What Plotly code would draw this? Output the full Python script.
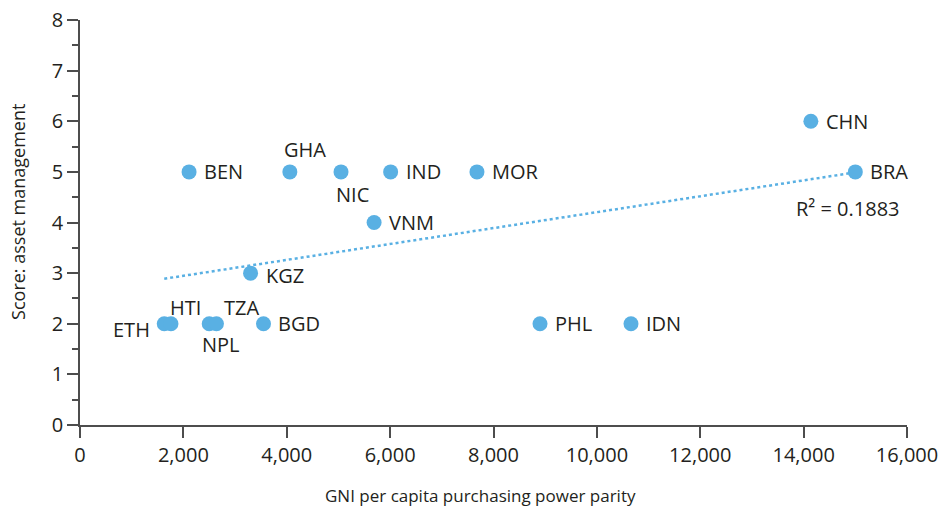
import numpy as np
import plotly.graph_objects as go

countries = ["ETH", "HTI", "NPL", "TZA", "BGD", "KGZ", "BEN", "GHA", "NIC", "IND",
             "VNM", "MOR", "PHL", "IDN", "CHN", "BRA"]
gni = [1630, 1760, 2500, 2640, 3550, 3300, 2110, 4060, 5050, 6010,
       5690, 7680, 8900, 10660, 14140, 15000]
score = [2, 2, 2, 2, 2, 3, 5, 5, 5, 5,
         4, 5, 2, 2, 6, 5]
r2_label = "R² = 0.1883"
x_title = "GNI per capita purchasing power parity"
y_title = "Score: asset management"

# label placement (anchor, xshift, yshift)
label_pos = {
    "ETH": ("right", -12, -6), "HTI": ("center", 15, 16), "NPL": ("center", 12, -21),
    "TZA": ("center", 25, 16), "BGD": ("left", 13, 0), "KGZ": ("left", 13, -2),
    "BEN": ("left", 13, 0), "GHA": ("center", 15, 22), "NIC": ("center", 11, -23),
    "IND": ("left", 13, 0), "VNM": ("left", 13, 0), "MOR": ("left", 13, 0),
    "PHL": ("left", 13, 0), "IDN": ("left", 13, 0), "CHN": ("left", 13, 0),
    "BRA": ("left", 13, 0),
}

blue = "#59b0e3"
dark = "#231f20"
axc = "#4d4d4d"
font = "Open Sans"

x = np.array(gni, dtype=float)
y = np.array(score, dtype=float)
slope, intercept = np.polyfit(x, y, 1)
xl = np.array([x.min(), x.max()])
yl = slope * xl + intercept

fig = go.Figure()
fig.add_trace(go.Scatter(x=xl, y=yl, mode="lines",
                         line=dict(color=blue, width=2.5, dash="dot"),
                         hoverinfo="skip", showlegend=False))
fig.add_trace(go.Scatter(x=gni, y=score, mode="markers",
                         marker=dict(color=blue, size=15, line=dict(width=0)),
                         showlegend=False))

for c, gx, gy in zip(countries, gni, score):
    anc, xs, ys = label_pos[c]
    fig.add_annotation(x=gx, y=gy, text=c, showarrow=False, xanchor=anc,
                       yanchor="middle", xshift=xs, yshift=ys,
                       font=dict(family=font, size=20, color=dark))

fig.add_annotation(x=gni[-1], y=score[-1], text=r2_label, showarrow=False,
                   xanchor="center", yanchor="middle", xshift=-7, yshift=-37,
                   font=dict(family=font, size=20, color=dark))

fig.add_annotation(x=0.484, y=-0.173, xref="paper", yref="paper", text=x_title,
                   showarrow=False, xanchor="center", yanchor="middle",
                   font=dict(family=font, size=17, color=dark))
fig.add_annotation(x=-0.075, y=0.526, xref="paper", yref="paper", text=y_title,
                   showarrow=False, xanchor="center", yanchor="middle", textangle=-90,
                   font=dict(family=font, size=18, color=dark))

axis_common = dict(showgrid=False, zeroline=False, showline=True, automargin=False,
                   linecolor=axc, linewidth=1.5, ticks="outside",
                   ticklen=11, tickwidth=1.5, tickcolor=axc,
                   tickfont=dict(family=font, size=20, color=dark))

fig.update_xaxes(range=[0, 16000], tickvals=list(range(0, 16001, 2000)),
                 tickformat=",d", **axis_common)
fig.update_yaxes(range=[0, 8], dtick=1,
                 minor=dict(ticks="outside", dtick=0.5, ticklen=6, tickwidth=1.5,
                            tickcolor=axc),
                 **axis_common)

fig.update_layout(width=943, height=510, plot_bgcolor="white", paper_bgcolor="white",
                  margin=dict(l=80, r=36, t=20, b=85), showlegend=False,
                  font=dict(family=font, color=dark))

fig.write_html("out.html", config={"displayModeBar": False},
               post_script="document.body.style.margin='0';"
                           "document.body.style.overflow='hidden';")
